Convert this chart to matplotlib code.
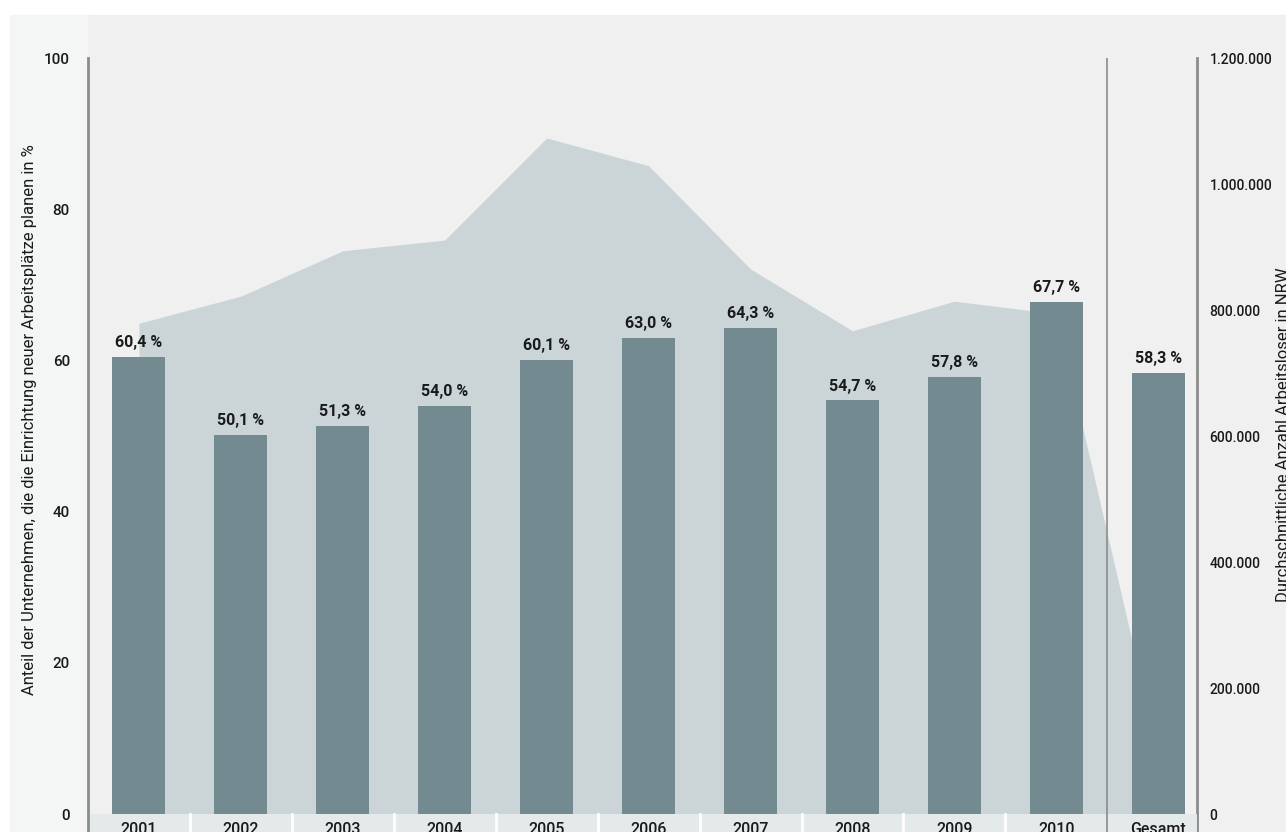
import matplotlib
matplotlib.use("Agg")
import matplotlib.pyplot as plt
from matplotlib.patches import Rectangle
from matplotlib.ticker import FuncFormatter

plt.rcParams['font.family'] = ['Roboto', 'DejaVu Sans']

# Data
years = ["2001", "2002", "2003", "2004", "2005", "2006", "2007", "2008", "2009", "2010"]
share = [60.4, 50.1, 51.3, 54.0, 60.1, 63.0, 64.3, 54.7, 57.8, 67.7]
total_label = "Gesamt"
total_share = 58.3
# average unemployed in NRW (area in the background), last value is where the area runs out
unemployed = [779000, 822000, 894000, 911000, 1073000, 1029000, 865000, 767000, 814000, 794000, 95000]

bar_color = "#738b90"
area_color = "#cbd4d7"
band_color = "#e4e9e9"
spine_color = "#8c8c8c"
text_color = "#1a1a1a"

W, H = 1286, 832
fig = plt.figure(figsize=(W / 100, H / 100), dpi=100)
fig.patch.set_facecolor("white")

# grey panels behind the chart
fig.patches.append(Rectangle((10 / W, 0), 78 / W, 1 - 15 / H, transform=fig.transFigure,
                             color="#f4f5f5", zorder=-10))
fig.patches.append(Rectangle((88 / W, 0), 1 - 88 / W, 1 - 15 / H, transform=fig.transFigure,
                             color="#f0f0f0", zorder=-10))

ax_left = 88 / W
ax_right = 1197 / W
ax_top = 1 - 58 / H
ax = fig.add_axes([ax_left, 0, ax_right - ax_left, ax_top])
ax2 = ax.twinx()

ymin = -18 / 7.56
ax.set_ylim(ymin, 100)
ax2.set_ylim(ymin * 12000, 1200000)
ax.set_xlim(-0.5, 10.38)

ax.set_zorder(ax2.get_zorder() + 1)
ax.patch.set_visible(False)
ax2.patch.set_visible(False)

# background area (right scale)
xs = list(range(len(unemployed)))
ax2.fill_between(xs, 0, unemployed, color=area_color, linewidth=0, zorder=1)

# bars (left scale)
xpos = list(range(len(years))) + [10]
vals = share + [total_share]
ax.bar(xpos, vals, width=0.52, color=bar_color, zorder=3)
for x, v in zip(xpos, vals):
    ax.annotate(f"{v:.1f}".replace(".", ",") + " %", (x, v), xytext=(0, 5),
                textcoords="offset points", ha="center", va="bottom",
                fontsize=11.5, fontweight="bold", color=text_color)

# category band at the bottom
ax.axhspan(ymin, 0, color=band_color, zorder=2, linewidth=0)
for k in range(1, 10):
    ax.plot([k - 0.5, k - 0.5], [ymin, 0], color="white", linewidth=2, zorder=2.5)
for x, lab in zip(xpos, years + [total_label]):
    ax.text(x, -1.0, lab, ha="center", va="top", fontsize=11.5, fontweight="medium",
            color=text_color, zorder=4)

# divider before "Gesamt"
ax.axvline(9.5, color=spine_color, linewidth=1.2, zorder=4)

# axes styling
for a in (ax, ax2):
    for side in ("top", "bottom", "left", "right"):
        a.spines[side].set_visible(False)
    a.set_xticks([])
ax.spines["left"].set_visible(True)
ax.spines["left"].set_color(spine_color)
ax.spines["left"].set_linewidth(2)
ax2.spines["right"].set_visible(True)
ax2.spines["right"].set_color(spine_color)
ax2.spines["right"].set_linewidth(2)

ax.set_yticks([0, 20, 40, 60, 80, 100])
ax.tick_params(axis="y", length=0, pad=13, labelsize=11, labelcolor=text_color)
ax2.set_yticks([0, 200000, 400000, 600000, 800000, 1000000, 1200000])
ax2.yaxis.set_major_formatter(FuncFormatter(lambda v, p: f"{int(v):,}".replace(",", ".")))
ax2.tick_params(axis="y", length=0, pad=9, labelsize=10, labelcolor=text_color)
for t in ax.get_yticklabels() + ax2.get_yticklabels():
    t.set_fontweight("medium")

fig.text(30 / W, 1 - 420 / H, "Anteil der Unternehmen, die die Einrichtung neuer Arbeitsplätze planen in %",
         rotation=90, ha="center", va="center", fontsize=12, color=text_color)
fig.text(1284 / W, 1 - 435 / H, "Durchschnittliche Anzahl Arbeitsloser in NRW",
         rotation=90, ha="center", va="center", fontsize=12, color=text_color)

fig.savefig("out.png", dpi=100)
